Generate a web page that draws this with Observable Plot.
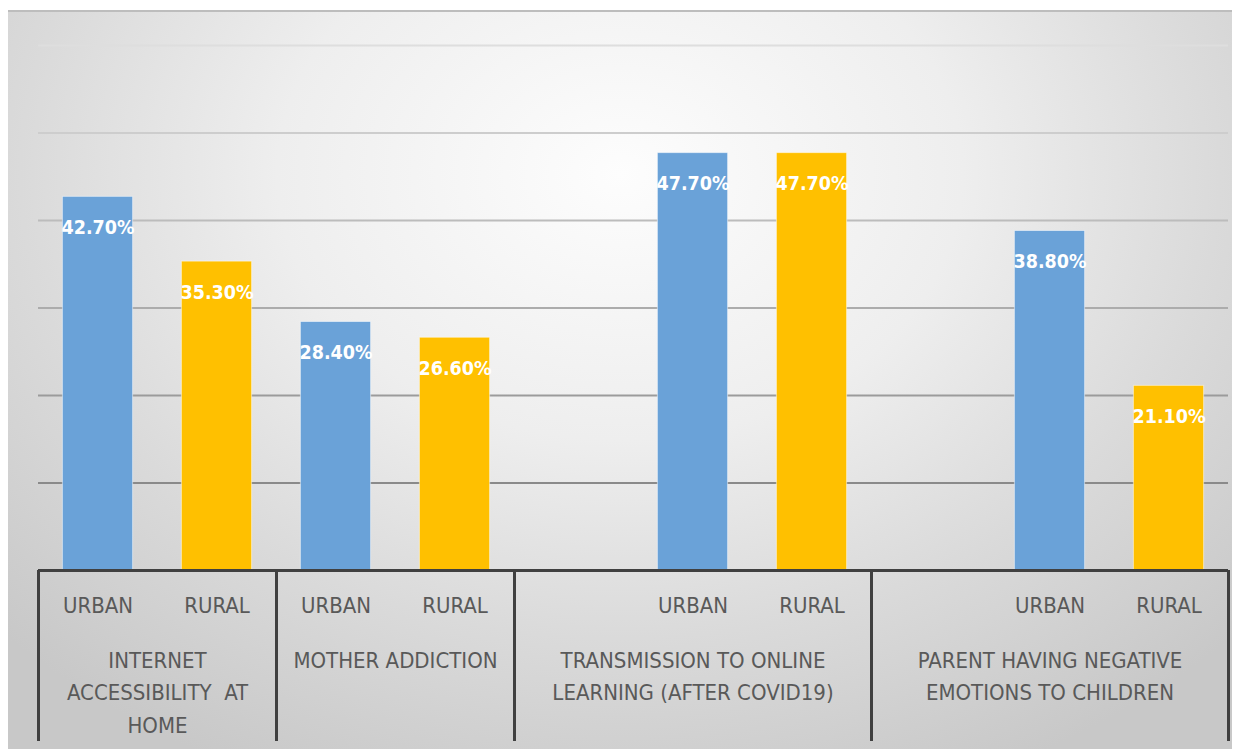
<!DOCTYPE html>
<html><head><meta charset="utf-8">
<script src="https://cdn.jsdelivr.net/npm/d3@7"></script>
<script src="https://cdn.jsdelivr.net/npm/@observablehq/plot@0.6"></script>
<style>
html,body{margin:0;padding:0;background:#fff;}
#wrap{position:relative;width:1240px;height:749px;overflow:hidden;}
#bg{position:absolute;left:8px;top:10px;width:1224px;height:739px;border-top:2px solid #bdbdbd;box-sizing:border-box;
background:radial-gradient(ellipse 70% 90% at 50% 22%, #fdfdfd 0%, #eeeeee 40%, #dadada 70%, #c8c8c8 100%);}
#chart{position:absolute;left:0;top:0;}
</style></head><body>
<div id="wrap"><div id="bg"></div><div id="chart"></div></div>
<script>
// ---- data ----
const groups = [
  "INTERNET\nACCESSIBILITY  AT\nHOME",
  "MOTHER ADDICTION",
  "TRANSMISSION TO ONLINE\nLEARNING (AFTER COVID19)",
  "PARENT HAVING NEGATIVE\nEMOTIONS TO CHILDREN"
];
const settings = ["URBAN", "RURAL"];
const urban = [42.7, 28.4, 47.7, 38.8];
const rural = [35.3, 26.6, 47.7, 21.1];
const leadingBlanks = [0, 0, 1, 1]; // empty category slots before URBAN in each group
const gridTicks = [10, 20, 30, 40, 50, 60];

// ---- build slots ----
const bars = [];
const groupSpans = [];
const boundaries = [0];
let slot = 0;
groups.forEach((g, i) => {
  const start = slot;
  slot += leadingBlanks[i];
  settings.forEach((s, j) => {
    bars.push({group: g, setting: s, slot, value: (j === 0 ? urban : rural)[i]});
    slot++;
  });
  groupSpans.push({label: g, start, end: slot});
  boundaries.push(slot);
});
const nSlots = slot;

const W = 1240, H = 749, mL = 38, mR = 12, mT = 45, mB = 179;
const plotH = H - mT - mB;
const axisDepth = 171;
const inset = 0.205;
const colors = {URBAN: "#6aa2d8", RURAL: "#ffc000"};
const gridColor = d3.interpolateRgb("#8a8a8a", "#dedede");
const font = "'DejaVu Sans Condensed', 'DejaVu Sans', sans-serif";

const chart = Plot.plot({
  width: W, height: H,
  marginLeft: mL, marginRight: mR, marginTop: mT, marginBottom: mB,
  x: {type: "linear", domain: [0, nSlots], axis: null},
  y: {domain: [0, 60], axis: null},
  style: {background: "transparent", fontFamily: font},
  marks: [
    ...gridTicks.map(t => Plot.ruleY([t], {stroke: gridColor((t - 10) / 50), strokeWidth: 2})),
    ...settings.map(s => Plot.rect(bars.filter(d => d.setting === s), {
      x1: d => d.slot + inset, x2: d => d.slot + 1 - inset,
      y1: 0, y2: "value",
      fill: colors[s], stroke: "#ffffff", strokeOpacity: 0.5, strokeWidth: 1
    })),
    Plot.ruleY([0], {stroke: "#404040", strokeWidth: 3}),
    Plot.ruleX(boundaries, {x: d => d, stroke: "#404040", strokeWidth: 3, insetTop: plotH, insetBottom: -axisDepth}),
    Plot.text(bars, {
      x: d => d.slot + 0.5, y: "value", text: d => d.value.toFixed(2) + "%",
      dy: 31, fill: "white", fontWeight: "bold", fontSize: 19.5
    }),
    Plot.text(bars, {
      x: d => d.slot + 0.5, text: "setting", frameAnchor: "bottom",
      dy: 42, fill: "#595959", fontSize: 22
    }),
    Plot.text(groupSpans, {
      x: d => (d.start + d.end) / 2, text: "label", frameAnchor: "bottom",
      lineAnchor: "top", dy: 74, lineHeight: 1.48, fill: "#595959", fontSize: 22
    })
  ]
});
document.getElementById("chart").appendChild(chart);
</script>
</body></html>
